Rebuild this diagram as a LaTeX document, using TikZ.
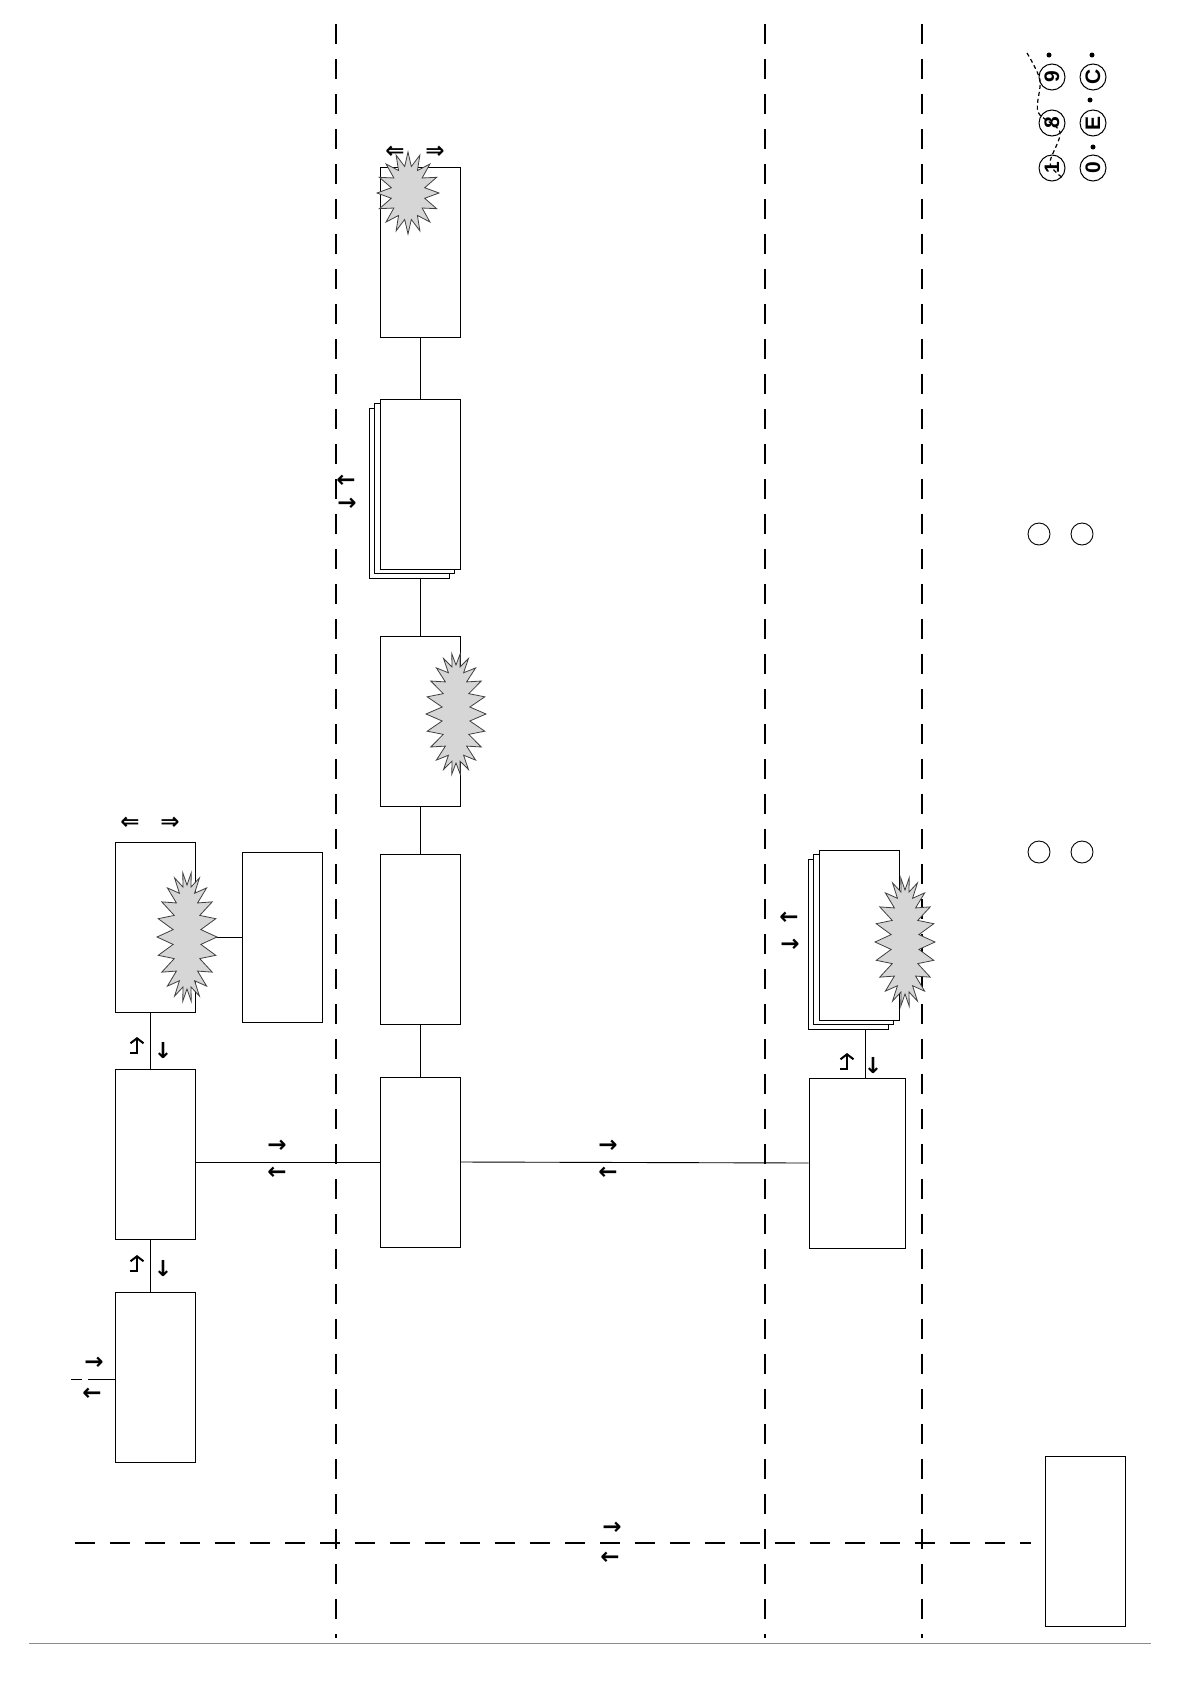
\documentclass[tikz,border=0pt]{standalone}
\usepackage{fontspec}
\usepackage{tikz}
\usetikzlibrary{positioning,arrows.meta,calc,backgrounds}
\newfontfamily\glyphfont{DejaVu Sans}
\newfontfamily\tagfont{Liberation Sans}

\newcommand\spiky[6]{%
  \filldraw[burst] ($(#1)+(0:#2 and #3)$)
  \foreach \k in {1,...,#6}{
    -- ($(#1)+({(\k-0.5)*360/#6}:#4 and #5)$)
    -- ($(#1)+({\k*360/#6}:#2 and #3)$)
  } -- cycle;}

\begin{document}
\begin{tikzpicture}[x=1pt,y=-1pt,
node distance=52pt,
unit/.style={draw, fill=white, minimum width=80pt, minimum height=170pt, inner sep=0pt, line width=0.9pt},
link/.style={line width=0.9pt},
lane/.style={dash pattern=on 20pt off 15pt, line width=1.1pt},
burst/.style={fill=black!16, draw=black!75, line width=0.8pt},
sym/.style={inner sep=0pt, font=\glyphfont\bfseries\fontsize{23}{23}\selectfont},
small sym/.style={inner sep=0pt, font=\glyphfont\bfseries\fontsize{22}{22}\selectfont},
hookup/.pic={\draw[line width=2pt, -{Straight Barb[length=5pt,width=13pt]}] (-7,8) -- (0,8) -- (0,-8);},
tag/.style={circle, draw, line width=1pt, minimum size=26pt, inner sep=0pt, font=\tagfont\bfseries\fontsize{21}{21}\selectfont, rotate=90}
]
\useasboundingbox (0,0) rectangle (1190,1684);

\node[unit] (A) at (155,1377) {};
\node[unit, above=52pt of A] (B) {};
\node[unit, above=56pt of B] (C) {};
\node[unit] (D) at (282,937) {};

\node[unit] (E) at (420,1162) {};
\node[unit, above=52pt of E] (F) {};
\node[unit, above=47pt of F] (G) {};
\node[unit, above=66pt of G] (H) {};
\node[unit, above=61pt of H] (I) {};

\node[unit, minimum width=96pt] (K) at (857,1163) {};
\node[unit] (J) at (859,935) {};
\node[unit] (L) at (1085,1541) {};

\coordinate (feed) at (71,1379);

\begin{scope}[on background layer]
\draw[link] ([xshift=-5pt]A.north) -- ([xshift=-5pt]B.south);
\draw[link] ([xshift=-5pt]B.north) -- ([xshift=-5pt]C.south);
\draw[link] (C.east |- D.west) -- (D.west);
\draw[link] (B.east |- E.west) -- (E.west);
\draw[link] (E.east) -- (K.west);
\draw[link] (E.north) -- (F.south);
\draw[link] (F.north) -- (G.south);
\draw[link] (G.north) -- (H.south);
\draw[link] (H.north) -- (I.south);
\draw[link] ([xshift=8pt]K.north) -- ([xshift=8pt]K.north |- J.south);
\draw[link, dash pattern=on 11pt off 6pt on 60pt] (feed) -- (A.west |- feed);
\node[unit] (H2) at ($(H)+(-11,9)$) {};
\node[unit] (H1) at ($(H)+(-5.5,4.5)$) {};
\node[unit] (J2) at ($(J)+(-11,9)$) {};
\node[unit] (J1) at ($(J)+(-5.5,4.5)$) {};
\end{scope}

\draw[lane] (336,24) -- (336,1638);
\draw[lane] (765,24) -- (765,1638);
\draw[lane] (922,24) -- (922,1638);
\draw[lane] (75,1543) -- (1031,1543);
\draw[black!45, line width=1pt] (29,1643) -- (1151,1643);

\coordinate (sC) at (187,937);
\coordinate (sG) at (456,714);
\coordinate (sJ) at (905,942);
\coordinate (sI) at (408,193);
\spiky{sC}{30}{65}{14}{52}{22}
\spiky{sG}{30}{61}{14}{49}{22}
\spiky{sJ}{30}{65}{14}{52}{22}
\spiky{sI}{31}{41}{17}{27}{16}

\node[sym] (cL) at (130,823) {⇐};
\node[sym] (cR) at (170,823) {⇒};
\node[sym] (iL) at (395,152) {⇐};
\node[sym] (iR) at (435,152) {⇒};

\node[sym] (aIn) at (94,1363) {→};
\node[sym] (aOut) at (92,1394) {←};
\node[sym] (beIn) at (277,1146) {→};
\node[sym] (beOut) at (277,1173) {←};
\node[sym] (ekIn) at (608,1146) {→};
\node[sym] (ekOut) at (608,1173) {←};
\node[sym] (hOut) at (346,481) {←};
\node[sym] (hIn) at (347,504) {→};
\node[sym] (jOut) at (789,918) {←};
\node[sym] (jIn) at (790,945) {→};
\node[sym] (lIn) at (612,1528) {→};
\node[sym] (lOut) at (610,1558) {←};

\pic at (137,1045) {hookup};
\node[small sym] (cbDown) at (163,1051) {↓};
\pic at (137,1263) {hookup};
\node[small sym] (baDown) at (163,1269) {↓};
\pic at (847,1061) {hookup};
\node[small sym] (kjDown) at (873,1066) {↓};

\node[circle, draw, line width=0.9pt, minimum size=22pt] (o1) at (1039,534) {};
\node[circle, draw, line width=0.9pt, minimum size=22pt] (o2) at (1082,534) {};
\node[circle, draw, line width=0.9pt, minimum size=22pt] (o3) at (1039,852) {};
\node[circle, draw, line width=0.9pt, minimum size=22pt] (o4) at (1082,852) {};

\draw[line width=1.2pt, dash pattern=on 4pt off 3pt] plot[smooth] coordinates {(1027,53) (1040,80) (1038,112) (1060,132) (1050,163) (1063,178)};
\node[tag] (t9) at (1052,77) {9};
\node[tag] (t8) at (1052,123) {8};
\node[tag] (t1) at (1052,168) {1};
\node[tag] (tC) at (1093,77) {C};
\node[tag] (tE) at (1093,123) {E};
\node[tag] (t0) at (1093,168) {0};
\foreach \p in {(1049,55),(1092,55),(1090,100),(1093,147)}
  \fill \p circle (2.5pt);
\end{tikzpicture}
\end{document}
